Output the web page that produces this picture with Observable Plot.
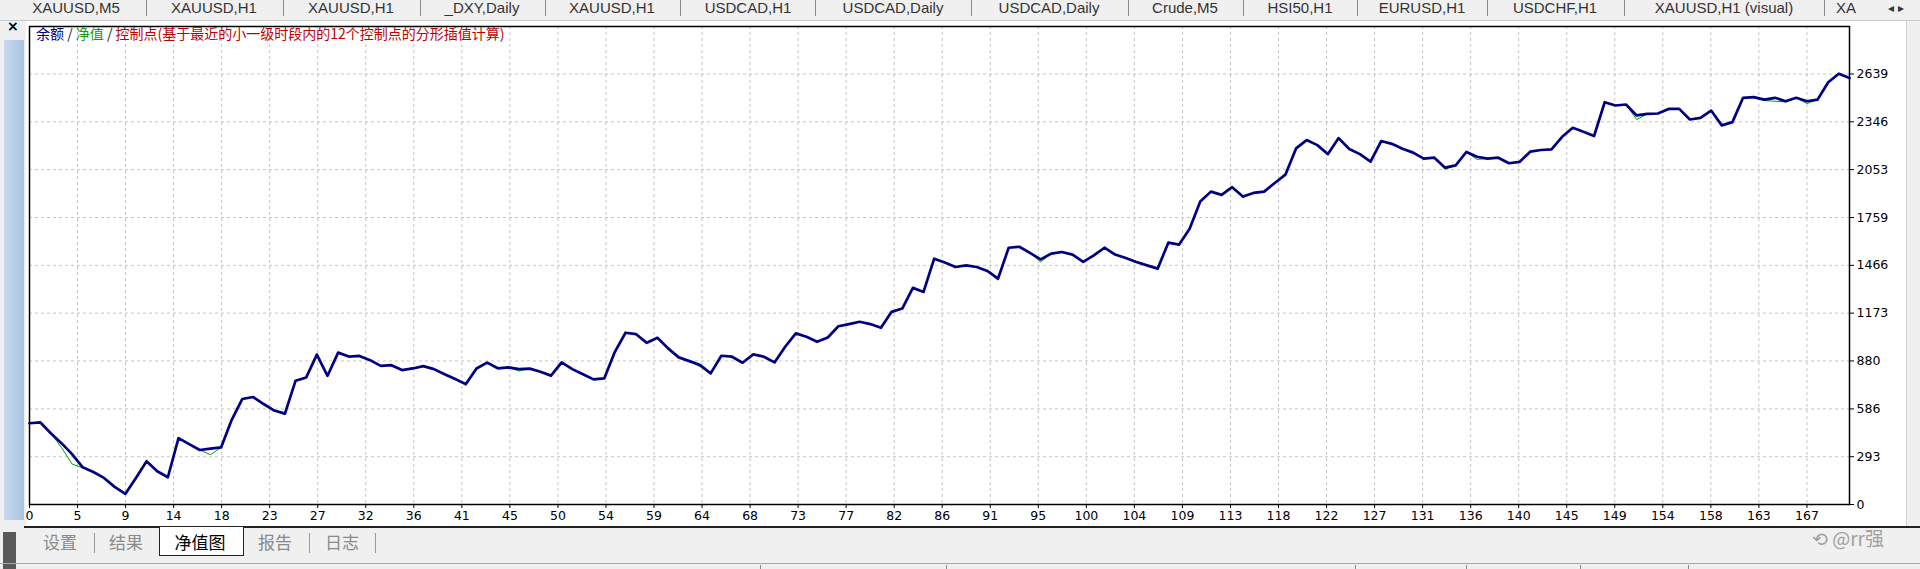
<!DOCTYPE html>
<html><head><meta charset="utf-8">
<script src="https://cdn.jsdelivr.net/npm/d3@7"></script>
<script src="https://cdn.jsdelivr.net/npm/@observablehq/plot@0.6"></script>
<style>
html,body{margin:0;padding:0;width:1920px;height:569px;overflow:hidden;background:#f0f0f0;font-family:"Noto Sans CJK SC","Noto Sans",sans-serif;}
#wrap{position:relative;width:1920px;height:569px;overflow:hidden;}
.abs{position:absolute;}
#topline{left:0;top:20px;width:1920px;height:1px;background:#c8c8c8;}
.tab{position:absolute;top:0px;font-family:"Liberation Sans",sans-serif;font-size:15px;line-height:15px;color:#333;white-space:nowrap;transform:translateX(-50%);}
.sep{position:absolute;top:0;width:1px;height:16px;background:#8a8a8a;}
#panel{left:26px;top:21px;width:1880px;height:506px;background:#fff;}
#rightborder{left:1906px;top:21px;width:1px;height:506px;background:#d0d0d0;}
#bluebar{left:4px;top:40px;width:20px;height:480px;background:linear-gradient(90deg,#c9daf0,#a8c2e2);}
#darkbar{left:3px;top:532px;width:13px;height:37px;background:#5a5a5a;}
#close{left:7px;top:18px;font-family:"DejaVu Sans",sans-serif;font-weight:bold;font-size:14px;color:#000;}
#chart{left:0;top:0;}
#title{left:36px;top:24px;font-size:14px;line-height:18px;white-space:nowrap;}
#bottomline{left:24px;top:526px;width:1896px;height:2px;background:#222;}
.btab{position:absolute;top:531px;font-size:17px;line-height:22px;color:#8a8a8a;transform:translateX(-50%);white-space:nowrap;}
#active{left:159px;top:527px;width:83px;height:28px;background:#fff;border:1.5px solid #222;border-top:none;}
.bsep{position:absolute;top:533px;width:1px;height:20px;background:#9a9a9a;}
#statusline{left:0;top:563px;width:1920px;height:1px;background:#a8a8a8;}
.ssep{position:absolute;top:565px;width:1px;height:4px;background:#8a8a8a;}
#wm{left:1812px;top:524px;font-size:19px;color:#a0a0a0;white-space:nowrap;}
</style></head><body>
<div id="wrap">
  <div id="topline" class="abs"></div>
  <div id="tabs"></div>
  <div id="panel" class="abs"></div>
  <div id="rightborder" class="abs"></div>
  <div id="bluebar" class="abs"></div>
  <div id="darkbar" class="abs"></div>
  <div id="close" class="abs">×</div>
  <div id="chart" class="abs"></div>
  <div id="title" class="abs"><span style="color:#000080">余额</span><span style="color:#222"> / </span><span style="color:#139a13">净值</span><span style="color:#222"> / </span><span style="color:#c00000">控制点(基于最近的小一级时段内的12个控制点的分形插值计算)</span></div>
  <div id="bottomline" class="abs"></div>
  <div id="active" class="abs"></div>
  <div id="btabs"></div>
  <div id="statusline" class="abs"></div>
  <div id="ssep"></div>
  <div id="wm" class="abs">⟲ @rr强</div>
</div>
<script>
// Tick labels
const xTickLabels = [0,5,9,14,18,23,27,32,36,41,45,50,54,59,64,68,73,77,82,86,91,95,100,104,109,113,118,122,127,131,136,140,145,149,154,158,163,167];
const yTickLabels = [0,293,586,880,1173,1466,1759,2053,2346,2639];

// 余额 (balance), one value per trade index 0..171
const balance = [
498,504,437,376,309,228,199,163,108,65,
163,265,204,167,407,370,334,342,350,519,
647,659,616,576,557,759,779,919,789,931,
907,911,885,850,854,824,834,848,830,799,
769,738,834,870,835,841,830,833,814,790,
871,830,798,767,773,936,1053,1044,991,1022,
957,902,879,855,804,912,906,869,920,906,
871,967,1049,1028,998,1024,1093,1106,1120,1106,
1083,1181,1201,1328,1303,1507,1483,1456,1466,1456,
1432,1385,1574,1580,1542,1503,1538,1548,1532,1487,
1527,1574,1532,1511,1487,1466,1446,1605,1593,1690,
1857,1918,1898,1945,1888,1910,1918,1971,2022,2183,
2234,2203,2148,2246,2179,2148,2102,2228,2211,2181,
2157,2120,2126,2065,2079,2161,2132,2120,2126,2092,
2100,2163,2173,2177,2254,2309,2285,2259,2466,2446,
2452,2385,2395,2397,2425,2425,2360,2370,2415,2324,
2344,2493,2497,2482,2493,2472,2493,2472,2482,2588,
2641,2615];

// 净值 (equity), same indices
const equity = [
498,504,437,350,248,224,199,163,108,65,
163,265,204,167,407,370,334,305,350,519,
647,659,616,576,550,759,779,919,789,931,
907,911,885,850,854,824,834,848,830,799,
769,730,834,870,835,841,818,833,814,790,
871,830,798,767,773,936,1053,1044,991,1022,
957,902,879,845,804,912,906,869,920,906,
871,967,1049,1028,998,1024,1093,1106,1120,1106,
1083,1181,1201,1328,1303,1507,1483,1456,1466,1456,
1432,1375,1574,1580,1542,1487,1538,1548,1532,1487,
1527,1574,1532,1511,1487,1466,1446,1605,1593,1690,
1857,1918,1898,1945,1880,1910,1918,1971,2022,2183,
2234,2203,2148,2246,2179,2148,2102,2228,2211,2181,
2157,2120,2126,2055,2079,2161,2116,2120,2126,2092,
2100,2163,2173,2177,2254,2309,2285,2259,2466,2446,
2452,2360,2395,2397,2425,2425,2360,2370,2415,2324,
2344,2493,2497,2476,2472,2468,2493,2458,2482,2588,
2641,2615];

const topTabs = ["XAUUSD,M5","XAUUSD,H1","XAUUSD,H1","_DXY,Daily","XAUUSD,H1","USDCAD,H1","USDCAD,Daily","USDCAD,Daily","Crude,M5","HSI50,H1","EURUSD,H1","USDCHF,H1","XAUUSD,H1 (visual)","XA"];
const topTabCenters = [76,214,351,482,612,748,893,1049,1185,1300,1422,1555,1724,1846];
const topSeps = [146,283,420,545,680,815,971,1128,1243,1357,1487,1624,1824];
const bottomTabs = ["设置","结果","净值图","报告","日志"];
const bottomTabCenters = [60,126,200,275,342];
const bottomSeps = [94,309,375];
const statusSeps = [760,946,1355,1466,1580,1688];

// UI chrome
const tabs = document.getElementById("tabs");
topTabs.forEach((t,k)=>{const d=document.createElement("div");d.className="tab";d.style.left=topTabCenters[k]+"px";d.textContent=t;tabs.appendChild(d);});
topSeps.forEach(x=>{const d=document.createElement("div");d.className="sep";d.style.left=x+"px";tabs.appendChild(d);});
const arr=document.createElement("div");arr.className="tab";arr.style.left="1896px";arr.style.top="1px";arr.style.fontSize="12px";arr.textContent="◂ ▸";tabs.appendChild(arr);
const bt = document.getElementById("btabs");
bottomTabs.forEach((t,k)=>{const d=document.createElement("div");d.className="btab";d.style.left=bottomTabCenters[k]+"px";if(k===2)d.style.color="#000";d.textContent=t;bt.appendChild(d);});
bottomSeps.forEach(x=>{const d=document.createElement("div");d.className="bsep";d.style.left=x+"px";bt.appendChild(d);});
const ss = document.getElementById("ssep");
statusSeps.forEach(x=>{const d=document.createElement("div");d.className="ssep";d.style.left=x+"px";ss.appendChild(d);});

// Chart
const n = balance.length;
const balanceData = balance.map((v,i)=>({i, v}));
const equityData = equity.map((v,i)=>({i, v}));
const xStep = xTickLabels[xTickLabels.length-1]/(xTickLabels.length-1);
const xTicks = xTickLabels.map((_,k)=>k*xStep);
const xLabelOf = new Map(xTicks.map((t,k)=>[t, String(xTickLabels[k])]));
const yMax = yTickLabels[yTickLabels.length-1]*10/9 - 2;

const plot = Plot.plot({
  width: 1920, height: 530,
  marginLeft: 29, marginRight: 71, marginTop: 26, marginBottom: 26,
  style: {background: "transparent", fontFamily: "DejaVu Sans, sans-serif", fontSize: "12.5px", color: "#000", overflow: "visible"},
  x: {domain: [0, n-1], ticks: xTicks, tickFormat: d => xLabelOf.get(d), tickSize: 4, tickPadding: 3, label: null},
  y: {domain: [0, yMax], ticks: yTickLabels, tickFormat: d => String(d), axis: "right", tickSize: 4, tickPadding: 3, label: null},
  marks: [
    Plot.ruleX(xTicks, {stroke: "#c4c4c4", strokeDasharray: "3,3", strokeWidth: 1}),
    Plot.ruleY(yTickLabels, {stroke: "#c4c4c4", strokeDasharray: "3,3", strokeWidth: 1}),
    Plot.line(equityData, {x: "i", y: "v", stroke: "#00a000", strokeWidth: 1}),
    Plot.line(balanceData, {x: "i", y: "v", stroke: "#000080", strokeWidth: 2.7, strokeLinejoin: "round"}),
    Plot.frame({stroke: "#000", strokeWidth: 1.5})
  ]
});
document.getElementById("chart").appendChild(plot);
</script>
</body></html>
